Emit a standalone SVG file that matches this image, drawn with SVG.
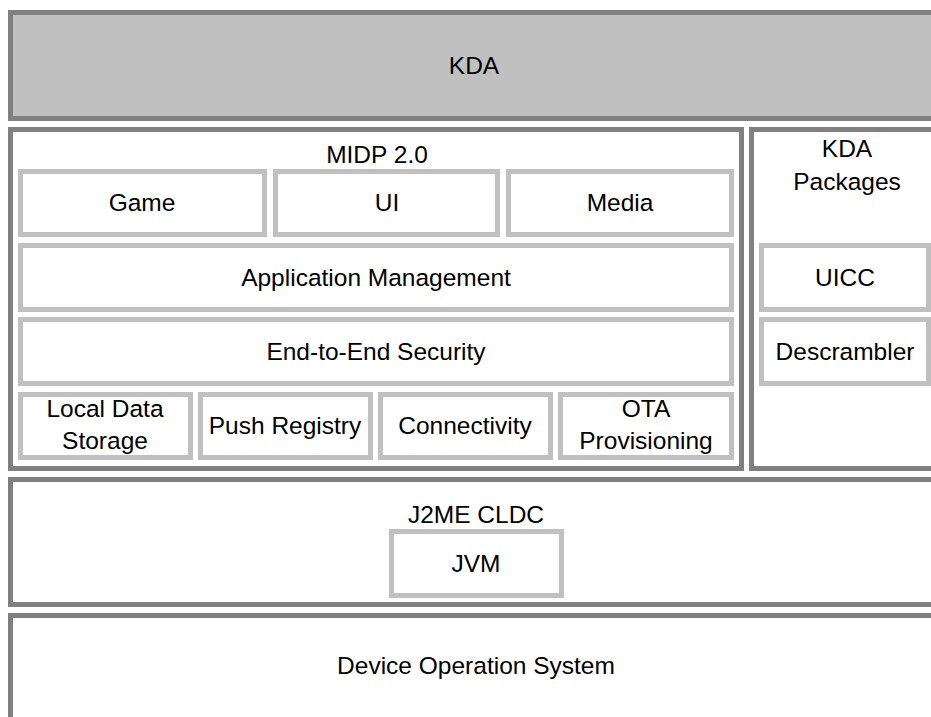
<svg xmlns="http://www.w3.org/2000/svg" width="931" height="717" viewBox="0 0 931 717">
<style>
.outer{fill:#ffffff;stroke:#808080;stroke-width:5}
.kda{fill:#c0c0c0;stroke:#808080;stroke-width:5}
.inner{fill:#ffffff;stroke:#c0c0c0;stroke-width:5}
text{font-family:"Liberation Sans",Arial,sans-serif;font-size:24.5px;fill:#000000;text-anchor:middle}
</style>
<rect width="931" height="717" fill="#ffffff"/>
<g id="kda"><rect class="kda" x="10.5" y="12.5" width="940" height="106"/><text x="474" y="74">KDA</text></g>
<g id="midp"><rect class="outer" x="10.5" y="129.5" width="731" height="339"/><text x="377" y="163">MIDP 2.0</text></g>
<g id="kdapackages"><rect class="outer" x="751.5" y="129.5" width="200" height="339"/><text x="847" y="157">KDA</text><text x="847" y="190">Packages</text></g>
<g id="game"><rect class="inner" x="20.5" y="171.5" width="244" height="63"/><text x="142" y="211">Game</text></g>
<g id="ui"><rect class="inner" x="275.5" y="171.5" width="222" height="63"/><text x="387" y="211">UI</text></g>
<g id="media"><rect class="inner" x="508.5" y="171.5" width="223" height="63"/><text x="620" y="211">Media</text></g>
<g id="appmgmt"><rect class="inner" x="20.5" y="245.5" width="711" height="64"/><text x="376" y="286">Application Management</text></g>
<g id="e2e"><rect class="inner" x="20.5" y="319.5" width="711" height="64"/><text x="376" y="360">End-to-End Security</text></g>
<g id="localdata"><rect class="inner" x="20.5" y="394.5" width="170" height="63"/><text x="105" y="417">Local Data</text><text x="105" y="449">Storage</text></g>
<g id="push"><rect class="inner" x="200.5" y="394.5" width="170" height="63"/><text x="285" y="434">Push Registry</text></g>
<g id="connectivity"><rect class="inner" x="380.5" y="394.5" width="170" height="63"/><text x="465" y="434">Connectivity</text></g>
<g id="ota"><rect class="inner" x="560.5" y="394.5" width="171" height="63"/><text x="646" y="417">OTA</text><text x="646" y="449">Provisioning</text></g>
<g id="uicc"><rect class="inner" x="761.5" y="245.5" width="167" height="64"/><text x="845" y="286">UICC</text></g>
<g id="descrambler"><rect class="inner" x="761.5" y="319.5" width="167" height="64"/><text x="845" y="360">Descrambler</text></g>
<g id="j2me"><rect class="outer" x="10.5" y="479.5" width="940" height="125"/><text x="476" y="523">J2ME CLDC</text></g>
<g id="jvm"><rect class="inner" x="391.5" y="531.5" width="170" height="64"/><text x="476" y="572">JVM</text></g>
<g id="device"><rect class="outer" x="10.5" y="615.5" width="940" height="200"/><text x="476" y="674">Device Operation System</text></g>
<g id="connectors"></g>
</svg>
